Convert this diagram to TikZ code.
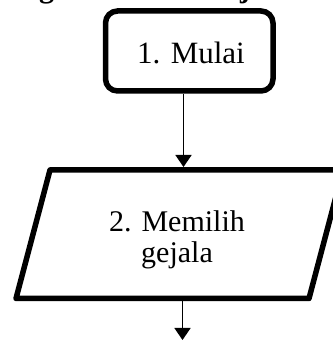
\documentclass[tikz,border=0pt]{standalone}
\usepackage{fontspec}
\setmainfont{Liberation Serif}
\usetikzlibrary{arrows.meta}
\begin{document}
\begin{tikzpicture}[x=1pt,y=1pt,
  term/.style={draw, line width=5.5pt, rounded corners=12pt,
    minimum width=167.5pt, minimum height=80pt, inner sep=0pt},
  iobox/.style={draw, line width=5.5pt, line join=round},
  label/.style={anchor=base, inner sep=0pt},
  flow/.style={line width=1.6pt, -{Triangle[length=12pt,width=16pt]}}]
\useasboundingbox (0,0) rectangle (332,340);
% cut-off title fragments (only descenders visible)
\node[label, font=\bfseries\fontsize{30}{30}\selectfont] (tg) at (46.5,342.2) {g};
\node[label, font=\bfseries\fontsize{30}{30}\selectfont] (tj) at (245,342.2) {j};
% start terminal
\node[term] (start) at (189.25,289) {};
\node[label, font=\fontsize{31}{36}\selectfont] (t1) at (191,276.7) {1. Mulai};
% input parallelogram
\coordinate (pTL) at (50,170);
\coordinate (pTR) at (343,170);
\coordinate (pBR) at (309,41.5);
\coordinate (pBL) at (16,41.5);
\draw[iobox] (pTL) -- (pTR) -- (pBR) -- (pBL) -- cycle;
\node[label, font=\fontsize{30}{31}\selectfont] (t2) at (177,108.3) {2. Memilih};
\node[label, font=\fontsize{30}{31}\selectfont] (t3) at (177,77.3) {gejala};
\coordinate (pTop) at (0,173);
\coordinate (pBot) at (0,41.5);
\coordinate (pEnd) at (182.5,0);
% connectors
\draw[flow] ([xshift=-5.75pt]start.south) -- ([xshift=-5.75pt]start.south |- pTop);
\draw[flow] (pEnd |- pBot) -- (pEnd);
\end{tikzpicture}
\end{document}
